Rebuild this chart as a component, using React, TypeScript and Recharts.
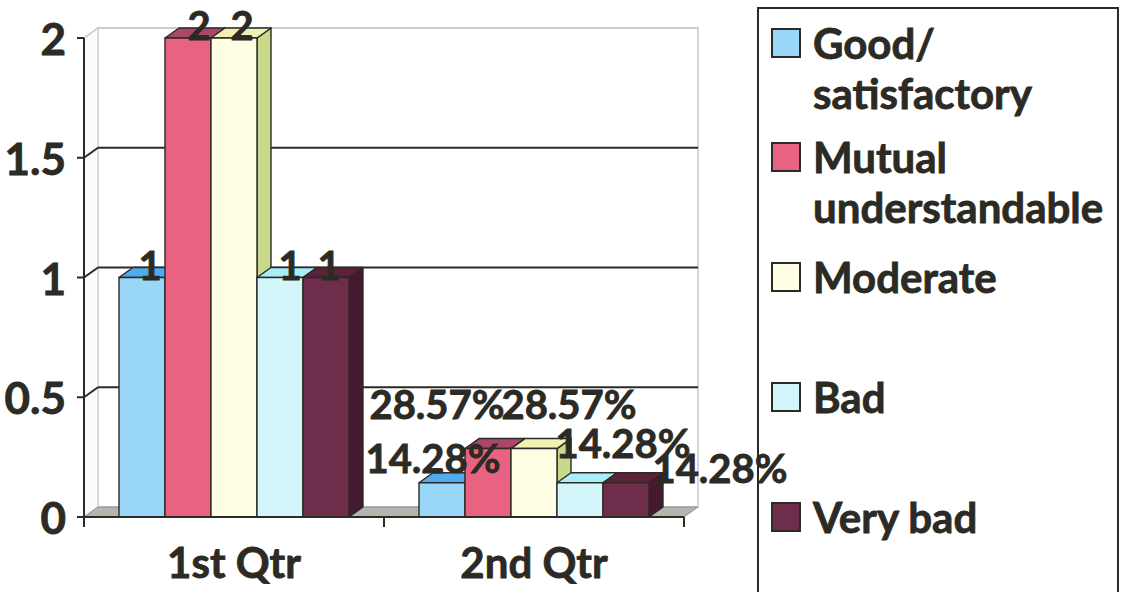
import React from "react";
import { BarChart, Bar, XAxis, YAxis, CartesianGrid, LabelList } from "recharts";

// Survey answers per quarter
const quarters = ["1st Qtr", "2nd Qtr"];
const goodSatisfactory = [1, 0.1428];
const mutualUnderstandable = [2, 0.2857];
const moderate = [2, 0.2857];
const bad = [1, 0.1428];
const veryBad = [1, 0.1428];
const yTicks = [0, 0.5, 1, 1.5, 2];

const INK = "#2b2a24";
const FONT = "Lato, 'Open Sans', sans-serif";
const DEPTH_X = 14;
const DEPTH_Y = -10;

interface SeriesDef {
  key: string;
  name: string[];
  values: number[];
  front: string;
  top: string;
  side: string;
}

const series: SeriesDef[] = [
  { key: "good", name: ["Good/", "satisfactory"], values: goodSatisfactory, front: "#9ad6f8", top: "#52aaee", side: "#5f9fd0" },
  { key: "mutual", name: ["Mutual", "understandable"], values: mutualUnderstandable, front: "#ea6282", top: "#a9476d", side: "#b74662" },
  { key: "moderate", name: ["Moderate"], values: moderate, front: "#fffee4", top: "#f1f1b4", side: "#c8d98c" },
  { key: "bad", name: ["Bad"], values: bad, front: "#d4f6fb", top: "#a8eef6", side: "#9fd3d9" },
  { key: "veryBad", name: ["Very bad"], values: veryBad, front: "#6e2d4b", top: "#5a2139", side: "#461a2e" },
];

// label placement (dx from bar centre, dy from bar top), per quarter
const labelNudge: Record<string, [number, number][]> = {
  good: [[8, 2], [-9, -10]],
  mutual: [[11, 2], [-51, -30]],
  moderate: [[8, 2], [35, -30]],
  bad: [[10, 2], [43, -25]],
  veryBad: [[3, 2], [94, 0]],
};

const rows = quarters.map((quarter, i) => {
  const row: Record<string, string | number> = { quarter };
  series.forEach((s) => {
    row[s.key] = s.values[i];
  });
  return row;
});

const formatValue = (v: number) => (v >= 1 ? String(v) : `${(v * 100).toFixed(2)}%`);

const textStyle = {
  fontFamily: FONT,
  fontWeight: 700,
  fill: INK,
  stroke: INK,
  strokeWidth: 0.8,
};

function Box3D(props: any) {
  const { x, y, width: w, height: h, front, top, side } = props;
  if (w == null || h == null || isNaN(y)) return null;
  const ox = DEPTH_X;
  const oy = DEPTH_Y;
  return (
    <g stroke={INK} strokeWidth={1.4} strokeLinejoin="round">
      <polygon points={`${x + w},${y} ${x + w + ox},${y + oy} ${x + w + ox},${y + h + oy} ${x + w},${y + h}`} fill={side} />
      <polygon points={`${x},${y} ${x + ox},${y + oy} ${x + w + ox},${y + oy} ${x + w},${y}`} fill={top} />
      <rect x={x} y={y} width={w} height={h} fill={front} />
    </g>
  );
}

const makeLabel = (key: string) => (p: any) => {
  const box = p.viewBox && p.viewBox.width != null ? p.viewBox : p;
  const { x, y, width } = box;
  const idx = p.index ?? 0;
  const [dx, dy] = labelNudge[key][idx] || [0, 0];
  return (
    <text x={x + width / 2 + dx} y={y + dy} textAnchor="middle" fontSize={40} {...textStyle}>
      {formatValue(Number(p.value))}
    </text>
  );
};

// back wall, side wall, floor and the gridlines pushed back by the depth offset
function WallLine(props: any) {
  const { x1, x2, y1, y, height, index } = props;
  const bottom = y + height;
  const top = y;
  const isFloor = Math.abs(y1 - bottom) < 1;
  const isTop = Math.abs(y1 - top) < 1;
  if (isFloor) {
    return (
      <g key={`wall-${index}`}>
        <rect x={x1 + DEPTH_X} y={top + DEPTH_Y} width={x2 - x1} height={height} fill="#fff" stroke="#c9c9c9" strokeWidth={1.5} />
        <polygon
          points={`${x1},${top} ${x1 + DEPTH_X},${top + DEPTH_Y} ${x1 + DEPTH_X},${bottom + DEPTH_Y} ${x1},${bottom}`}
          fill="#fbfbfb"
          stroke="#d0d0d0"
          strokeWidth={1.2}
        />
        <polygon
          points={`${x1},${bottom} ${x1 + DEPTH_X},${bottom + DEPTH_Y} ${x2 + DEPTH_X},${bottom + DEPTH_Y} ${x2},${bottom}`}
          fill="#b3b6ae"
          stroke="#8e918a"
          strokeWidth={1}
        />
      </g>
    );
  }
  const color = isTop ? "#c9c9c9" : INK;
  return (
    <g key={`wall-${index}`} stroke={color} strokeWidth={isTop ? 1.5 : 2}>
      <line x1={x1} y1={y1} x2={x1 + DEPTH_X} y2={y1 + DEPTH_Y} />
      <line x1={x1 + DEPTH_X} y1={y1 + DEPTH_Y} x2={x2 + DEPTH_X} y2={y1 + DEPTH_Y} />
    </g>
  );
}

function YTick(props: any) {
  const { x, y, payload } = props;
  return (
    <text x={x - 9} y={y + 17} textAnchor="end" fontSize={44} {...textStyle}>
      {payload.value}
    </text>
  );
}

function XTick(props: any) {
  const { x, y, payload, index, width, visibleTicksCount } = props;
  const band = width / (visibleTicksCount || 2);
  const axisY = y - 8;
  const isLast = index === (visibleTicksCount || 2) - 1;
  return (
    <g>
      <line x1={x - band / 2} y1={axisY} x2={x - band / 2} y2={axisY + 10} stroke={INK} strokeWidth={2} />
      {isLast && <line x1={x + band / 2} y1={axisY} x2={x + band / 2} y2={axisY + 10} stroke={INK} strokeWidth={2} />}
      <text x={x} y={axisY + 61} textAnchor="middle" fontSize={42} {...textStyle}>
        {payload.value}
      </text>
    </g>
  );
}

function Legend3D() {
  return (
    <div
      style={{
        position: "absolute",
        left: 757,
        top: 7,
        width: 362,
        height: 620,
        border: `2px solid ${INK}`,
        boxSizing: "border-box",
        background: "#fff",
        fontFamily: FONT,
        fontWeight: 700,
        fontSize: 42,
        color: INK,
        WebkitTextStroke: `0.8px ${INK}`,
        paddingTop: 9,
      }}
    >
      {series.map((s, i) => (
        <div key={s.key} style={{ height: i === 0 ? 114 : 120, position: "relative" }}>
          <div
            style={{
              position: "absolute",
              left: 12,
              top: 10,
              width: 30,
              height: 30,
              boxSizing: "border-box",
              border: `2.5px solid ${INK}`,
              background: s.front,
            }}
          />
          <div style={{ position: "absolute", left: 54, top: 0, lineHeight: "50px", whiteSpace: "nowrap" }}>
            {s.name.map((line) => (
              <div key={line}>{line}</div>
            ))}
          </div>
        </div>
      ))}
    </div>
  );
}

export default function App() {
  return (
    <div style={{ position: "absolute", left: 0, top: 0, width: 1123, height: 592, background: "#fff", overflow: "hidden" }}>
      <Legend3D />
      <div style={{ position: "absolute", left: 0, top: 0 }}>
        <BarChart
          width={820}
          height={592}
          data={rows}
          margin={{ top: 38, right: 136, bottom: 15, left: 0 }}
          barGap={0}
          style={{ overflow: "visible" }}
        >
          <CartesianGrid vertical={false} horizontal={(p: any) => <WallLine {...p} />} />
          <YAxis
            domain={[0, 2]}
            ticks={yTicks}
            width={84}
            axisLine={{ stroke: INK, strokeWidth: 2 }}
            tickLine={{ stroke: INK, strokeWidth: 2 }}
            tickSize={7}
            tick={<YTick />}
            interval={0}
          />
          <XAxis
            dataKey="quarter"
            height={60}
            axisLine={{ stroke: INK, strokeWidth: 2 }}
            tickLine={false}
            tick={<XTick />}
            interval={0}
          />
          {series.map((s) => (
            <Bar
              key={s.key}
              dataKey={s.key}
              name={s.name.join(" ")}
              barSize={46}
              isAnimationActive={false}
              shape={(p: any) => <Box3D {...p} front={s.front} top={s.top} side={s.side} />}
            >
              <LabelList dataKey={s.key} content={makeLabel(s.key)} />
            </Bar>
          ))}
        </BarChart>
      </div>
    </div>
  );
}
